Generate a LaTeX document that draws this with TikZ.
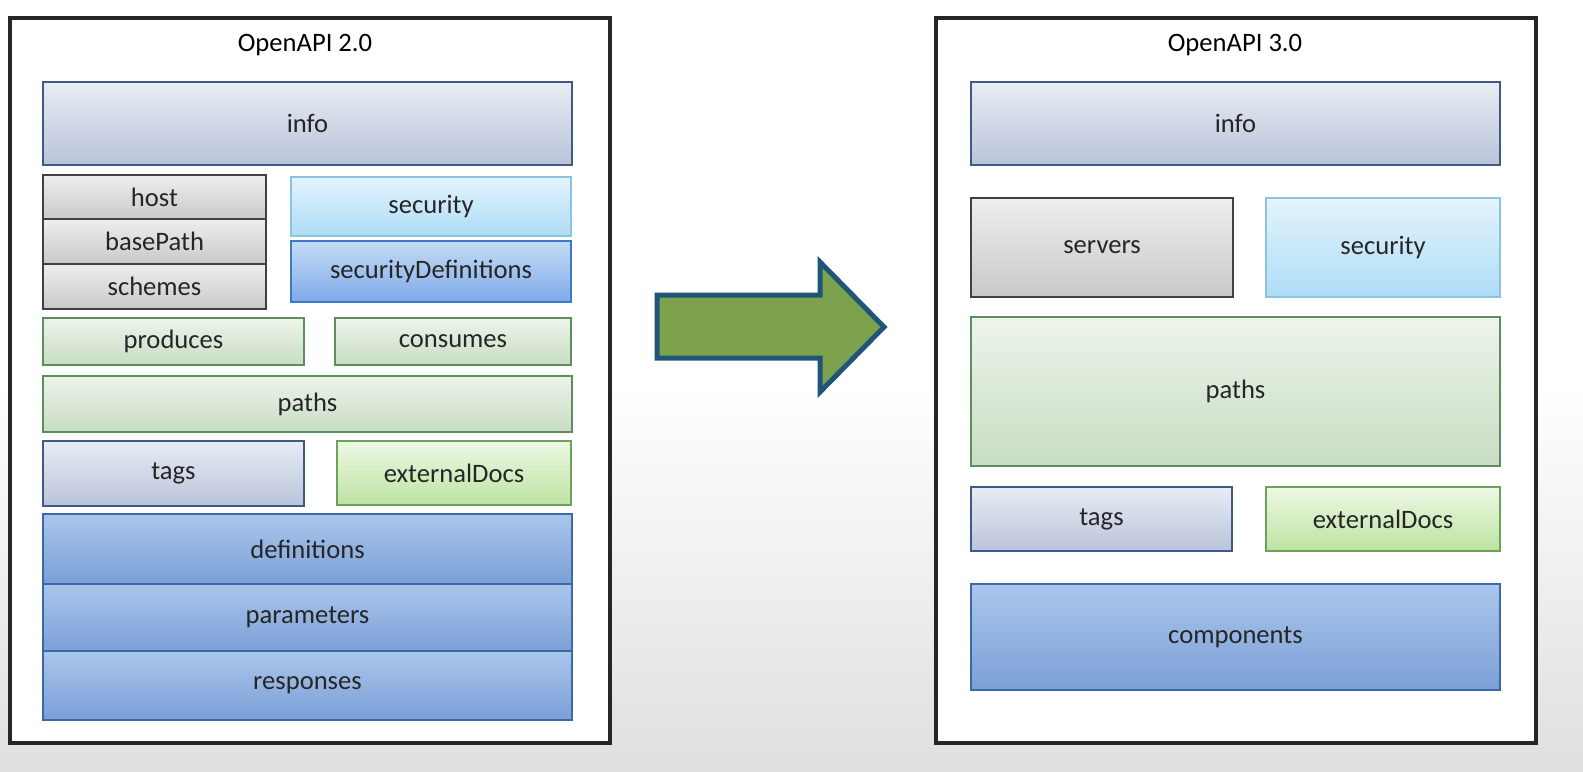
\documentclass[tikz,border=0pt]{standalone}
\usepackage{fontspec}
\setmainfont{Carlito}
\definecolor{infT}{HTML}{E8ECF4}\definecolor{infB}{HTML}{B9C3D9}\definecolor{infD}{HTML}{3F5A86}
\definecolor{grT}{HTML}{EEEEEE}\definecolor{grB}{HTML}{C9C9C9}
\definecolor{seT}{HTML}{E3F4FD}\definecolor{seB}{HTML}{AEDCF6}\definecolor{seD}{HTML}{8CC3E3}
\definecolor{sdT}{HTML}{C4DCF6}\definecolor{sdB}{HTML}{7FAAE8}\definecolor{sdD}{HTML}{3E78C6}
\definecolor{gnT}{HTML}{EDF4EA}\definecolor{gnB}{HTML}{C8DDC3}\definecolor{gnD}{HTML}{5E8E5E}
\definecolor{edT}{HTML}{EEF8E4}\definecolor{edB}{HTML}{BCE3A2}\definecolor{edD}{HTML}{6CA25A}
\definecolor{blT}{HTML}{AAC6EC}\definecolor{blB}{HTML}{7B9FD6}\definecolor{blD}{HTML}{3D68A8}
\definecolor{arF}{HTML}{7DA24D}\definecolor{arD}{HTML}{1F5578}
\begin{document}
\begin{tikzpicture}[x=0.5pt,y=-0.5pt,
 bx/.style={draw=#1,line width=1.2pt},
 infob/.style={bx=infD,top color=infT,bottom color=infB},
 grayb/.style={bx=black!75,top color=grT,bottom color=grB},
 secb/.style={bx=seD,top color=seT,bottom color=seB},
 sdb/.style={bx=sdD,top color=sdT,bottom color=sdB},
 grb/.style={bx=gnD,top color=gnT,bottom color=gnB},
 edb/.style={bx=edD,top color=edT,bottom color=edB},
 blb/.style={bx=blD,top color=blT,bottom color=blB},
 fr/.style={draw=black!85,line width=2pt,fill=white}]
\useasboundingbox (0,0) rectangle (1583,771);
\shade[top color=white,bottom color=white] (0,0) rectangle (1583,385);
\shade[top color=white,bottom color=gray!25] (0,385) rectangle (1583,771);
\def\B#1#2#3#4#5#6#7{\path[#2] (#3,#4) rectangle (#5,#6) node[midway,font=\fontsize{13.3}{15}\selectfont,text=black!85] (#1) {#7};}
\draw[fr] (10,18) rectangle (610,743);
\node (t1) at (305,45) {\fontsize{13.3}{15}\selectfont OpenAPI 2.0};
\B{i1}{infob}{43}{82}{572}{165}{info}
\B{h}{grayb}{43}{175}{266}{219}{host}
\B{bp}{grayb}{43}{219}{266}{264}{basePath}
\B{sc}{grayb}{43}{264}{266}{309}{schemes}
\B{s1}{secb}{291}{177}{571}{236}{security}
\B{sd}{sdb}{291}{241}{571}{302}{securityDefinitions}
\B{pr}{grb}{43}{318}{304}{365}{produces}
\B{co}{grb}{335}{318}{571}{365}{consumes}
\B{p1}{grb}{43}{376}{572}{432}{paths}
\B{t1b}{infob}{43}{441}{304}{506}{tags}
\B{e1}{edb}{337}{441}{571}{505}{externalDocs}
\B{de}{blb}{43}{514}{572}{584}{definitions}
\B{pa}{blb}{43}{584}{572}{651}{parameters}
\B{re}{blb}{43}{651}{572}{720}{responses}
\draw[fr] (936,18) rectangle (1536,743);
\node (t2) at (1235,45) {\fontsize{13.3}{15}\selectfont OpenAPI 3.0};
\B{i2}{infob}{971}{82}{1500}{165}{info}
\B{sv}{grayb}{971}{198}{1233}{297}{servers}
\B{s2}{secb}{1266}{198}{1500}{297}{security}
\B{p2}{grb}{971}{317}{1500}{466}{paths}
\B{t2b}{infob}{971}{487}{1232}{551}{tags}
\B{e2}{edb}{1266}{487}{1500}{551}{externalDocs}
\B{cm}{blb}{971}{584}{1500}{690}{components}
\draw[line width=2.5pt,draw=arD,fill=arF,line join=miter]
 (657,295)--(820,295)--(820,262)--(884,327)--(820,392)--(820,358)--(657,358)--cycle;
\end{tikzpicture}
\end{document}
